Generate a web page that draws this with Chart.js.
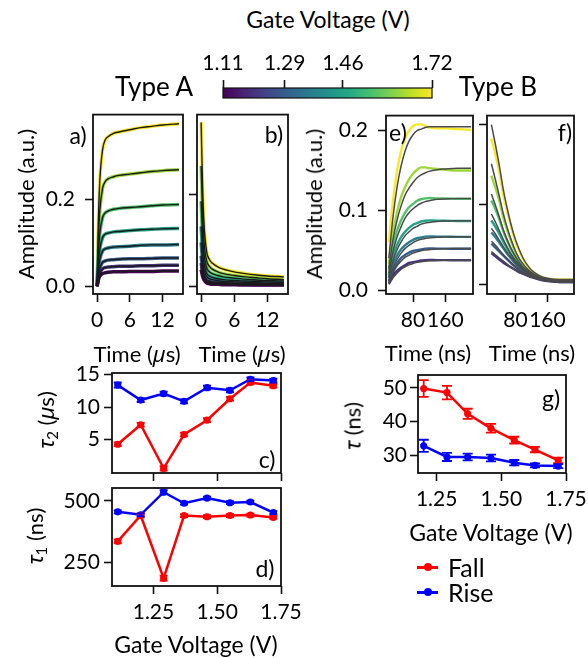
<!DOCTYPE html>
<html><head><meta charset="utf-8">
<script src="https://cdn.jsdelivr.net/npm/chart.js@4.4.0/dist/chart.umd.min.js"></script>
<style>
body{margin:0;background:#fff;width:588px;height:658px;overflow:hidden;position:relative;font-family:Lato,'Noto Sans',sans-serif;color:#000}
.t{position:absolute;white-space:nowrap;transform:translate(-50%,-50%);line-height:1;z-index:5}
.r{transform:translate(-50%,-50%) rotate(-90deg)}
.g{font-family:'Noto Sans','DejaVu Sans',sans-serif;font-style:italic}
sub{font-size:0.68em;vertical-align:-0.25em}
canvas{position:absolute}
.lg{position:absolute;z-index:5}
</style></head><body>
<div class="t" style="left:328px;top:19px;font-size:23px">Gate Voltage (V)</div>
<div class="t" style="left:154px;top:86px;font-size:26px">Type A</div>
<div class="t" style="left:498px;top:86px;font-size:26px">Type B</div>

<div class="t" style="left:78px;top:135px;font-size:23px">a)</div>
<div class="t" style="left:274px;top:134px;font-size:23px">b)</div>
<div class="t" style="left:398px;top:132px;font-size:23px">e)</div>
<div class="t" style="left:565px;top:132px;font-size:23px">f)</div>
<div class="t" style="left:267px;top:459px;font-size:23px">c)</div>
<div class="t" style="left:265px;top:568px;font-size:23px">d)</div>
<div class="t" style="left:551px;top:398px;font-size:23px">g)</div>

<div class="t r" style="left:26px;top:204px;font-size:22px">Amplitude (a.u.)</div>
<div class="t r" style="left:314px;top:204px;font-size:22px">Amplitude (a.u.)</div>
<div class="t r" style="left:47px;top:420px;font-size:22px"><span class="g">τ</span><sub>2</sub> (<span class="g">µ</span>s)</div>
<div class="t r" style="left:36px;top:536px;font-size:22px"><span class="g">τ</span><sub>1</sub> (ns)</div>
<div class="t r" style="left:352px;top:426px;font-size:22px"><span class="g">τ</span> (ns)</div>

<div class="t" style="left:137px;top:353px;font-size:22px">Time (<span class="g">µ</span>s)</div>
<div class="t" style="left:242px;top:353px;font-size:22px">Time (<span class="g">µ</span>s)</div>
<div class="t" style="left:428px;top:353px;font-size:22px">Time (ns)</div>
<div class="t" style="left:532px;top:353px;font-size:22px">Time (ns)</div>
<div class="t" style="left:196px;top:644px;font-size:23px">Gate Voltage (V)</div>
<div class="t" style="left:491px;top:532px;font-size:23px">Gate Voltage (V)</div>

<div class="lg" style="left:417px;top:566px;width:21px;height:2.5px;background:#f00"></div>
<div class="lg" style="left:424px;top:563px;width:8px;height:8px;border-radius:50%;background:#f00"></div>
<div class="t" style="left:448px;top:567px;font-size:25px;transform:translate(0,-50%)">Fall</div>
<div class="lg" style="left:417px;top:591px;width:21px;height:2.5px;background:#00f"></div>
<div class="lg" style="left:424px;top:588px;width:8px;height:8px;border-radius:50%;background:#00f"></div>
<div class="t" style="left:448px;top:592px;font-size:25px;transform:translate(0,-50%)">Rise</div>

<script>
// ---------------- DATA ----------------
const voltsAB = [1.11, 1.20, 1.29, 1.37, 1.46, 1.55, 1.63, 1.72];
const voltsEF = [1.20, 1.29, 1.37, 1.46, 1.55, 1.63, 1.72];
const cbarTicks = [1.11, 1.29, 1.46, 1.72];
const cbarLabels = ['1.11', '1.29', '1.46', '1.72'];

const timeAB = [0, 0.25, 0.5, 1, 1.5, 2, 3, 4, 6, 8, 10, 12, 15]; // µs
// panel a: rise, one row per voltage (1.11 ... 1.72)
const riseA = [
 [0, 0.015, 0.023, 0.029, 0.031, 0.032, 0.033, 0.033, 0.034, 0.034, 0.034, 0.035, 0.035],
 [0, 0.020, 0.031, 0.040, 0.043, 0.044, 0.045, 0.046, 0.046, 0.047, 0.047, 0.048, 0.048],
 [0, 0.027, 0.042, 0.055, 0.058, 0.060, 0.061, 0.062, 0.063, 0.063, 0.064, 0.065, 0.065],
 [0, 0.040, 0.062, 0.081, 0.086, 0.088, 0.090, 0.091, 0.092, 0.094, 0.095, 0.095, 0.096],
 [0, 0.056, 0.086, 0.112, 0.120, 0.122, 0.125, 0.126, 0.128, 0.130, 0.131, 0.132, 0.133],
 [0, 0.079, 0.122, 0.158, 0.169, 0.173, 0.177, 0.179, 0.181, 0.183, 0.185, 0.187, 0.188],
 [0, 0.113, 0.174, 0.225, 0.241, 0.247, 0.252, 0.255, 0.258, 0.261, 0.264, 0.266, 0.268],
 [0, 0.157, 0.243, 0.314, 0.337, 0.344, 0.352, 0.355, 0.360, 0.365, 0.368, 0.371, 0.374]];
// panel b: fall
const fallB = [
 [0.036, 0.022, 0.014, 0.007, 0.005, 0.004, 0.004, 0.003, 0.003, 0.002, 0.002, 0.002, 0.002],
 [0.050, 0.030, 0.019, 0.010, 0.008, 0.007, 0.006, 0.005, 0.004, 0.004, 0.003, 0.003, 0.003],
 [0.066, 0.040, 0.026, 0.014, 0.011, 0.009, 0.008, 0.007, 0.006, 0.005, 0.005, 0.004, 0.004],
 [0.095, 0.058, 0.037, 0.021, 0.016, 0.014, 0.012, 0.010, 0.009, 0.008, 0.007, 0.006, 0.006],
 [0.130, 0.080, 0.051, 0.028, 0.022, 0.019, 0.016, 0.014, 0.012, 0.011, 0.010, 0.009, 0.008],
 [0.185, 0.113, 0.072, 0.040, 0.031, 0.027, 0.023, 0.020, 0.017, 0.015, 0.013, 0.012, 0.011],
 [0.262, 0.160, 0.100, 0.055, 0.043, 0.037, 0.031, 0.027, 0.023, 0.020, 0.018, 0.016, 0.014],
 [0.357, 0.220, 0.140, 0.075, 0.058, 0.050, 0.042, 0.037, 0.031, 0.027, 0.024, 0.022, 0.020]];

const timeEF = [20, 30, 40, 50, 60, 70, 80, 90, 100, 110, 120, 140, 160, 190, 224]; // ns
// panel e: rise data and fit, one row per voltage (1.20 ... 1.72)
const riseE = [
 [0.008, 0.018, 0.024, 0.028, 0.031, 0.034, 0.035, 0.036, 0.037, 0.0375, 0.0377, 0.0375, 0.0375, 0.0373, 0.0373],
 [0.011, 0.024, 0.033, 0.040, 0.044, 0.047, 0.049, 0.050, 0.051, 0.052, 0.0523, 0.052, 0.052, 0.0518, 0.0518],
 [0.015, 0.031, 0.043, 0.051, 0.056, 0.060, 0.063, 0.065, 0.066, 0.067, 0.0673, 0.067, 0.067, 0.0667, 0.0667],
 [0.019, 0.041, 0.056, 0.066, 0.073, 0.078, 0.082, 0.084, 0.086, 0.087, 0.0874, 0.087, 0.087, 0.0866, 0.0866],
 [0.025, 0.054, 0.074, 0.087, 0.097, 0.104, 0.108, 0.112, 0.114, 0.115, 0.1156, 0.115, 0.115, 0.1144, 0.1144],
 [0.033, 0.071, 0.097, 0.116, 0.129, 0.139, 0.146, 0.151, 0.154, 0.154, 0.153, 0.152, 0.151, 0.150, 0.150],
 [0.060, 0.110, 0.148, 0.174, 0.190, 0.200, 0.206, 0.208, 0.208, 0.206, 0.204, 0.203, 0.203, 0.202, 0.201]];
const riseEFit = [
 [0.007, 0.015, 0.021, 0.026, 0.029, 0.0315, 0.0334, 0.0347, 0.0356, 0.0362, 0.0366, 0.0371, 0.0373, 0.0375, 0.0375],
 [0.009, 0.021, 0.030, 0.036, 0.041, 0.0437, 0.0463, 0.0481, 0.0494, 0.0502, 0.0507, 0.0515, 0.0518, 0.052, 0.052],
 [0.012, 0.027, 0.038, 0.046, 0.052, 0.056, 0.0596, 0.062, 0.0637, 0.0647, 0.0653, 0.0663, 0.0667, 0.067, 0.067],
 [0.016, 0.036, 0.050, 0.060, 0.068, 0.073, 0.0774, 0.080, 0.0827, 0.084, 0.0848, 0.0861, 0.0866, 0.087, 0.087],
 [0.021, 0.047, 0.066, 0.079, 0.090, 0.097, 0.102, 0.106, 0.109, 0.111, 0.112, 0.1139, 0.1144, 0.115, 0.115],
 [0.027, 0.062, 0.087, 0.105, 0.119, 0.128, 0.135, 0.141, 0.1445, 0.147, 0.149, 0.151, 0.152, 0.153, 0.153],
 [0.040, 0.090, 0.128, 0.155, 0.174, 0.187, 0.195, 0.200, 0.202, 0.204, 0.205, 0.205, 0.205, 0.205, 0.205]];
// panel f: fall data and fit
const fallF = [
 [0.039, 0.035, 0.031, 0.027, 0.024, 0.021, 0.018, 0.015, 0.013, 0.011, 0.009, 0.006, 0.004, 0.003, 0.003],
 [0.051, 0.046, 0.041, 0.036, 0.031, 0.026, 0.022, 0.018, 0.015, 0.012, 0.010, 0.007, 0.005, 0.003, 0.003],
 [0.065, 0.059, 0.052, 0.045, 0.038, 0.032, 0.026, 0.021, 0.017, 0.014, 0.011, 0.007, 0.005, 0.004, 0.003],
 [0.080, 0.072, 0.063, 0.053, 0.044, 0.036, 0.029, 0.023, 0.019, 0.015, 0.012, 0.008, 0.006, 0.004, 0.004],
 [0.105, 0.094, 0.081, 0.066, 0.054, 0.043, 0.034, 0.027, 0.021, 0.016, 0.013, 0.008, 0.006, 0.005, 0.004],
 [0.136, 0.121, 0.104, 0.083, 0.067, 0.053, 0.040, 0.031, 0.024, 0.018, 0.014, 0.009, 0.006, 0.005, 0.005],
 [0.182, 0.163, 0.140, 0.111, 0.090, 0.071, 0.053, 0.041, 0.031, 0.023, 0.017, 0.010, 0.007, 0.006, 0.006]];
const fallFFit = [
 [0.041, 0.037, 0.033, 0.029, 0.025, 0.021, 0.018, 0.015, 0.013, 0.011, 0.009, 0.006, 0.004, 0.003, 0.003],
 [0.054, 0.049, 0.043, 0.037, 0.032, 0.027, 0.022, 0.018, 0.015, 0.012, 0.010, 0.007, 0.005, 0.003, 0.003],
 [0.070, 0.063, 0.055, 0.047, 0.039, 0.033, 0.027, 0.022, 0.018, 0.014, 0.011, 0.007, 0.005, 0.004, 0.003],
 [0.088, 0.078, 0.067, 0.056, 0.046, 0.037, 0.030, 0.024, 0.019, 0.015, 0.012, 0.008, 0.006, 0.004, 0.004],
 [0.113, 0.099, 0.084, 0.068, 0.055, 0.044, 0.035, 0.027, 0.021, 0.017, 0.013, 0.008, 0.006, 0.005, 0.004],
 [0.151, 0.131, 0.110, 0.088, 0.070, 0.055, 0.042, 0.032, 0.025, 0.019, 0.015, 0.009, 0.0065, 0.005, 0.005],
 [0.200, 0.175, 0.148, 0.118, 0.094, 0.073, 0.056, 0.043, 0.032, 0.024, 0.018, 0.011, 0.0075, 0.006, 0.006]];

// panels c, d
const voltsCD = [1.11, 1.20, 1.29, 1.37, 1.46, 1.55, 1.63, 1.72];
const tau2Fall = [4.3, 7.3, 0.6, 5.8, 8.0, 11.3, 13.8, 13.3];
const tau2FallErr = [0.3, 0.3, 0.35, 0.3, 0.3, 0.3, 0.3, 0.3];
const tau2Rise = [13.4, 11.1, 12.1, 10.9, 13.0, 12.6, 14.3, 14.1];
const tau2RiseErr = [0.4, 0.3, 0.3, 0.3, 0.3, 0.3, 0.3, 0.3];
const tau1Fall = [335, 440, 185, 440, 435, 440, 442, 432];
const tau1FallErr = [8, 8, 10, 6, 6, 6, 6, 6];
const tau1Rise = [455, 443, 535, 490, 511, 492, 495, 452];
const tau1RiseErr = [6, 6, 8, 6, 6, 6, 6, 6];
// panel g
const voltsG = [1.20, 1.29, 1.37, 1.46, 1.55, 1.63, 1.72];
const tauFall = [49.8, 48.6, 42.3, 38.0, 34.5, 31.7, 28.5];
const tauFallErr = [2.5, 2.0, 1.5, 1.3, 1.0, 0.8, 0.8];
const tauRise = [32.8, 29.5, 29.5, 29.2, 27.8, 27.0, 26.8];
const tauRiseErr = [1.8, 1.2, 1.0, 1.0, 0.8, 0.6, 0.6];

// ---------------- STYLE / HELPERS ----------------
const VIRIDIS = ['#440154','#482475','#414487','#355f8d','#2a788e','#21918c','#22a884','#44bf70','#7ad151','#bddf26','#fde725'];
function hx(h){return [1,3,5].map(i=>parseInt(h.substr(i,2),16));}
function viridis(t){t=Math.max(0,Math.min(1,t));const p=t*10,i=Math.min(9,Math.floor(p)),f=p-i;const a=hx(VIRIDIS[i]),b=hx(VIRIDIS[i+1]);
 return 'rgb('+a.map((v,k)=>Math.round(v+(b[k]-v)*f)).join(',')+')';}
const vcol = v => viridis((v - cbarTicks[0]) / (cbarTicks[cbarTicks.length-1] - cbarTicks[0]));
const INK = '#111';

const framePlugin = {id:'frame', afterDraw(chart){const {ctx, chartArea:a}=chart;ctx.save();ctx.strokeStyle=INK;ctx.lineWidth=1.8;
 ctx.strokeRect(a.left,a.top,a.right-a.left,a.bottom-a.top);ctx.restore();}};
const errPlugin = {id:'err', afterDatasetsDraw(chart){const ctx=chart.ctx, ys=chart.scales.y;
 chart.data.datasets.forEach((ds,i)=>{ if(!ds.yErr) return; const meta=chart.getDatasetMeta(i);
  ctx.save();ctx.strokeStyle=ds.borderColor;ctx.lineWidth=1.8;
  meta.data.forEach((pt,j)=>{const v=ds.data[j].y,e=ds.yErr[j];const y1=ys.getPixelForValue(v-e),y2=ys.getPixelForValue(v+e),x=pt.x,c=ds.capW;
   ctx.beginPath();ctx.moveTo(x,y1);ctx.lineTo(x,y2);ctx.moveTo(x-c,y1);ctx.lineTo(x+c,y1);ctx.moveTo(x-c,y2);ctx.lineTo(x+c,y2);ctx.stroke();});
  ctx.restore();});}};

function axis(min,max,ticks,labels,pad,extra){
 return Object.assign({type:'linear',min,max,
  afterBuildTicks:s=>{s.ticks=ticks.map(v=>({value:v}));},
  grid:{display:true,drawOnChartArea:false,drawTicks:true,tickLength:8,tickWidth:1.6,tickColor:INK},
  border:{display:false},
  ticks:{autoSkip:false,maxRotation:0,minRotation:0,color:'#000',padding:pad,font:{family:'Lato',size:21},
   callback:(v,i)=>labels[i]}},extra||{});
}
const PADL=70,PADR=34,PADT=22,PADB=50;
function panel(rect,xAx,yAx,datasets){
 const cv=document.createElement('canvas');
 cv.width=rect.w+PADL+PADR;cv.height=rect.h+PADT+PADB;
 cv.style.left=(rect.l-PADL)+'px';cv.style.top=(rect.t-PADT)+'px';
 document.body.appendChild(cv);
 xAx.afterFit=s=>{s.height=PADB;};yAx.afterFit=s=>{s.width=PADL;};
 new Chart(cv,{type:'line',data:{datasets},options:{responsive:false,animation:false,devicePixelRatio:1,
  layout:{padding:{top:PADT,right:PADR,left:0,bottom:0}},
  plugins:{legend:{display:false},tooltip:{enabled:false}},
  scales:{x:xAx,y:yAx}},plugins:[framePlugin,errPlugin]});
}
const pts=(xs,ys)=>xs.map((x,i)=>({x,y:ys[i]}));
function curveSets(times,rows,fits,volts,w,fitCol,fitW){
 const out=[];
 rows.forEach((r,i)=>{out.push({data:pts(times,r),borderColor:vcol(volts[i]),borderWidth:w,pointRadius:0,cubicInterpolationMode:'monotone',order:2});});
 (fits||rows).forEach((r,i)=>{out.push({data:pts(times,r),borderColor:fitCol,borderWidth:fitW,pointRadius:0,cubicInterpolationMode:'monotone',order:1});});
 return out;
}
function tauSet(xs,ys,err,col,cap){return {data:pts(xs,ys),yErr:err,capW:cap,borderColor:col,backgroundColor:col,borderWidth:2.5,pointRadius:3.6,pointBackgroundColor:col,pointBorderWidth:0};}

// ---------------- COLORBAR ----------------
(function(){
 const r={l:223,t:88,w:209,h:10}, pl=40,pr=40,pt=50,pb=6;
 const cv=document.createElement('canvas');cv.width=r.w+pl+pr;cv.height=r.h+pt+pb;
 cv.style.left=(r.l-pl)+'px';cv.style.top=(r.t-pt)+'px';document.body.appendChild(cv);
 const grad={id:'grad',beforeDatasetsDraw(chart){const {ctx,chartArea:a}=chart;const g=ctx.createLinearGradient(a.left,0,a.right,0);
  VIRIDIS.forEach((c,i)=>g.addColorStop(i/(VIRIDIS.length-1),c));ctx.save();ctx.fillStyle=g;ctx.fillRect(a.left,a.top,a.right-a.left,a.bottom-a.top);
  ctx.strokeStyle=INK;ctx.lineWidth=1.2;ctx.strokeRect(a.left,a.top,a.right-a.left,a.bottom-a.top);ctx.restore();}};
 const x=axis(cbarTicks[0],cbarTicks[cbarTicks.length-1],cbarTicks,cbarLabels,4,{position:'top'});
 x.afterFit=s=>{s.height=pt;};
 new Chart(cv,{type:'line',data:{datasets:[]},options:{responsive:false,animation:false,devicePixelRatio:1,
  layout:{padding:{left:pl,right:pr,top:0,bottom:pb}},plugins:{legend:{display:false},tooltip:{enabled:false}},
  scales:{x,y:{display:false,min:0,max:1}}},plugins:[grad]});
})();

// ---------------- PANELS ----------------
panel({l:93,t:114,w:90,h:180},
 axis(-0.75,15.75,[0,6,12],['0','6','12'],6),
 axis(-0.018,0.395,[0,0.2],['0.0','0.2'],10),
 curveSets(timeAB,riseA,null,voltsAB,3.5,'#1a1a1a',1.4));
panel({l:197,t:114,w:91,h:180},
 axis(-0.75,15.75,[0,6,12],['0','6','12'],6),
 axis(-0.0174,0.374,[0,0.2],['',''],10),
 curveSets(timeAB,fallB,null,voltsAB,3.5,'#1a1a1a',1.4));
panel({l:386,t:115,w:87,h:179},
 axis(13,228.6,[80,160],['80','160'],6),
 axis(-0.005,0.219,[0,0.1,0.2],['0.0','0.1','0.2'],10),
 curveSets(timeEF,riseE,riseEFit,voltsEF,2.4,'#4a4a4a',1.5));
panel({l:487,t:115,w:87,h:179},
 axis(9,226.5,[80,160],['80','160'],6),
 axis(-0.0121,0.2112,[0,0.1,0.2],['','',''],10),
 curveSets(timeEF,fallF,fallFFit,voltsEF,2.4,'#4a4a4a',1.5));
panel({l:112,t:373,w:169,h:100},
 axis(1.0875,1.75,[1.25,1.5,1.75],['','',''],6),
 axis(-0.12,15.26,[5,10,15],['5','10','15'],4),
 [tauSet(voltsCD,tau2Fall,tau2FallErr,'#ff0000',4),tauSet(voltsCD,tau2Rise,tau2RiseErr,'#0000ff',4)]);
panel({l:112,t:488,w:169,h:98},
 axis(1.0875,1.75,[1.25,1.5,1.75],['1.25','1.50','1.75'],6),
 axis(153,552,[250,500],['250','500'],4),
 [tauSet(voltsCD,tau1Fall,tau1FallErr,'#ff0000',4),tauSet(voltsCD,tau1Rise,tau1RiseErr,'#0000ff',4)]);
panel({l:418,t:375,w:148,h:98},
 axis(1.178,1.75,[1.25,1.5,1.75],['1.25','1.50','1.75'],6),
 axis(24.75,53.8,[30,40,50],['30','40','50'],3),
 [tauSet(voltsG,tauFall,tauFallErr,'#ff0000',5),tauSet(voltsG,tauRise,tauRiseErr,'#0000ff',5)]);
</script>
</body></html>
